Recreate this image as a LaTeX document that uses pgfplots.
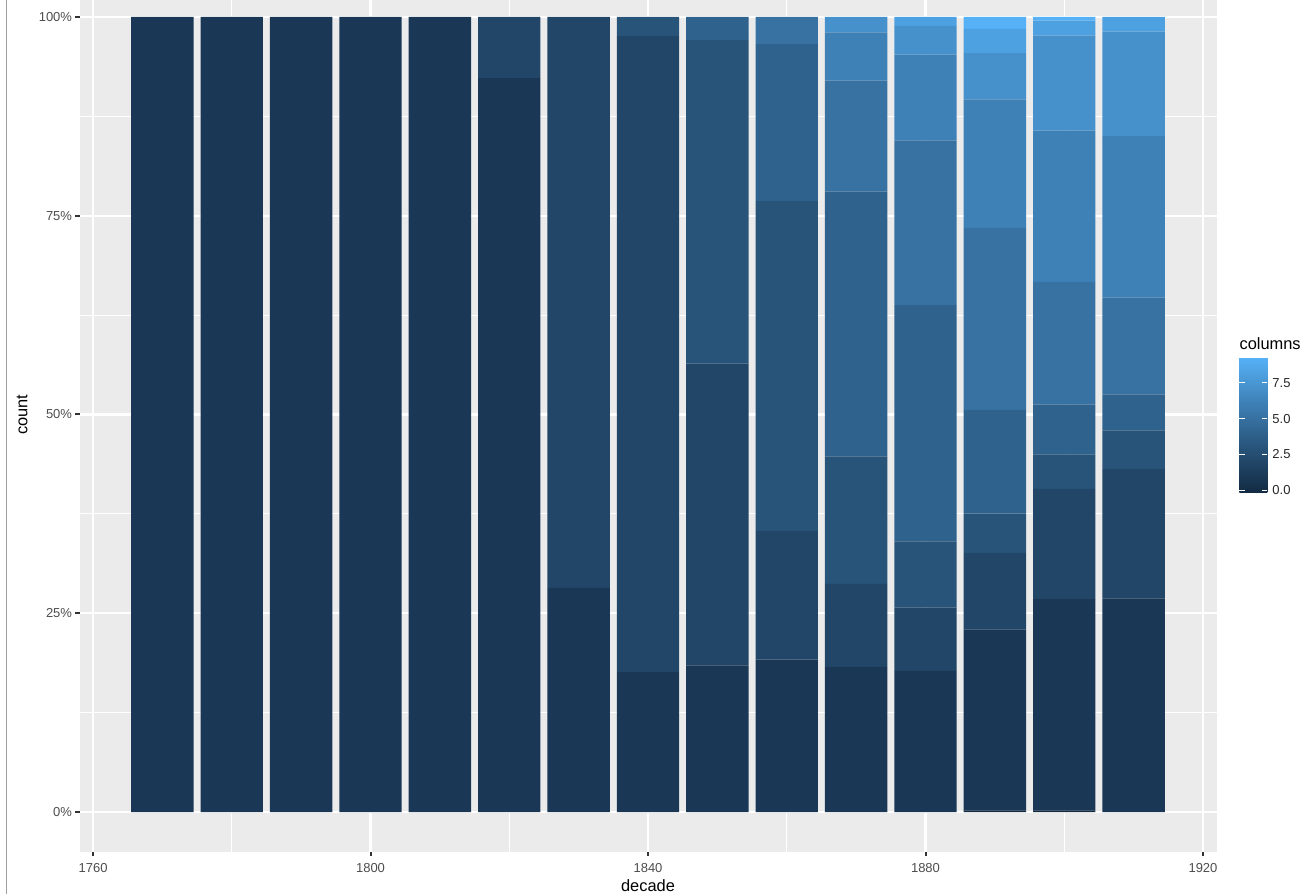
\documentclass[border=0pt]{standalone}
\usepackage{fontspec}
\setmainfont{Liberation Sans}
\usepackage{pgfplots}
\usepackage{pgfplotstable}
\pgfplotsset{compat=1.18}

\definecolor{ggbg}{HTML}{EBEBEB}
\definecolor{grey20}{HTML}{333333}
\definecolor{grey30}{HTML}{4D4D4D}
% ggplot default gradient #132B43 -> #56B1F7 (Lab), at columns = 0..9
\definecolor{c0}{RGB}{19,43,67}
\definecolor{c1}{RGB}{26,56,85}
\definecolor{c2}{RGB}{33,70,103}
\definecolor{c3}{RGB}{40,84,122}
\definecolor{c4}{RGB}{47,99,142}
\definecolor{c5}{RGB}{55,114,162}
\definecolor{c6}{RGB}{62,129,183}
\definecolor{c7}{RGB}{70,145,204}
\definecolor{c8}{RGB}{78,161,225}
\definecolor{c9}{RGB}{86,177,247}

% share of each "columns" value per decade, in percent
\pgfplotstableread{
decade v0  v1    v2    v3    v4    v5    v6    v7    v8   v9
1770   0   100   0     0     0     0     0     0     0    0
1780   0   100   0     0     0     0     0     0     0    0
1790   0   100   0     0     0     0     0     0     0    0
1800   0   100   0     0     0     0     0     0     0    0
1810   0   100   0     0     0     0     0     0     0    0
1820   0   92.3  7.7   0     0     0     0     0     0    0
1830   0   28.2  71.8  0     0     0     0     0     0    0
1840   0   17.6  80.0  2.4   0     0     0     0     0    0
1850   0   18.45 37.94 40.72 2.89  0     0     0     0    0
1860   0   19.16 16.19 41.51 19.74 3.40  0     0     0    0
1870   0   18.24 10.44 16.06 33.29 13.96 6.09  1.92  0    0
1880   0   17.74 7.98  8.33  29.72 20.72 10.79 3.59  1.13 0
1890   0.2 22.78 9.6   4.94  13.05 22.89 16.19 5.82  3.02 1.51
1900   0.2 26.59 13.84 4.36  6.24  15.44 19.03 11.95 1.88 0.47
1910   0   26.88 16.26 4.87  4.53  12.15 20.34 13.12 1.85 0
}\shares

\begin{document}
\begin{tikzpicture}
\begin{axis}[
  at={(39.75pt,21.125pt)}, anchor=south west,
  scale only axis, width=568.5pt, height=437.25pt,
  xmin=1758.05, xmax=1921.95, ymin=-5, ymax=105,
  ybar stacked, bar width=9,
  axis background/.style={fill=ggbg},
  axis line style={draw=none},
  grid=both,
  major grid style={white, line width=1.05pt},
  minor grid style={white, line width=0.53pt},
  xtick={1760,1800,1840,1880,1920},
  xticklabels={1760,1800,1840,1880,1920},
  minor xtick={1780,1820,1860,1900},
  ytick={0,25,50,75,100},
  yticklabels={0\%,25\%,50\%,75\%,100\%},
  minor ytick={12.5,37.5,62.5,87.5},
  tick pos=left, tick align=outside,
  major tick length=2.2pt, minor tick length=0pt,
  tick style={grey20, line width=1pt},
  ticklabel style={font=\fontsize{6.5}{7.5}\selectfont, text=grey30},
  yticklabel style={xshift=2pt},
  xlabel={decade}, ylabel={count},
  label style={font=\fontsize{8.2}{9.5}\selectfont},
  xlabel style={at={(axis description cs:0.5,-0.045)}, anchor=base},
  ylabel style={at={(axis description cs:-0.0505,0.5)}, anchor=center},
  colorbar,
  point meta min=-0.16, point meta max=9.28,
  colormap={gg}{rgb255=(19,43,67) rgb255=(26,56,85) rgb255=(33,70,103)
    rgb255=(40,84,122) rgb255=(47,99,142) rgb255=(55,114,162)
    rgb255=(62,129,183) rgb255=(70,145,204) rgb255=(78,161,225)
    rgb255=(86,177,247)},
  colorbar style={
    at={(parent axis.south east)}, anchor=south west,
    xshift=2.9pt, yshift=179.7pt,
    scale only axis, width=14pt, height=67.5pt,
    axis line style={draw=none},
    ytick={0,2.5,5,7.5}, yticklabels={0.0,2.5,5.0,7.5},
    yticklabel pos=right, ytick pos=both,
    tick align=inside, major tick length=2.8pt,
    tick style={white, line width=0.5pt},
    ytick style={white, line width=0.5pt},
    yticklabel style={font=\fontsize{6.5}{7.5}\selectfont, text=black!85, xshift=-1pt},
  },
]
\addplot[fill=c0, draw=none] table[x=decade, y=v0] {\shares};
\addplot[fill=c1, draw=none] table[x=decade, y=v1] {\shares};
\addplot[fill=c2, draw=none] table[x=decade, y=v2] {\shares};
\addplot[fill=c3, draw=none] table[x=decade, y=v3] {\shares};
\addplot[fill=c4, draw=none] table[x=decade, y=v4] {\shares};
\addplot[fill=c5, draw=none] table[x=decade, y=v5] {\shares};
\addplot[fill=c6, draw=none] table[x=decade, y=v6] {\shares};
\addplot[fill=c7, draw=none] table[x=decade, y=v7] {\shares};
\addplot[fill=c8, draw=none] table[x=decade, y=v8] {\shares};
\addplot[fill=c9, draw=none] table[x=decade, y=v9] {\shares};
\end{axis}
\node[anchor=base west, inner sep=0pt, font=\fontsize{8.2}{9.5}\selectfont] at (619.6pt,272pt) {columns};
\draw[gray!75, line width=0.6pt] (3.4pt,0) -- (3.4pt,447pt);
\pgfresetboundingbox
\useasboundingbox (0,0) rectangle (655pt,447pt);
\end{tikzpicture}
\end{document}
